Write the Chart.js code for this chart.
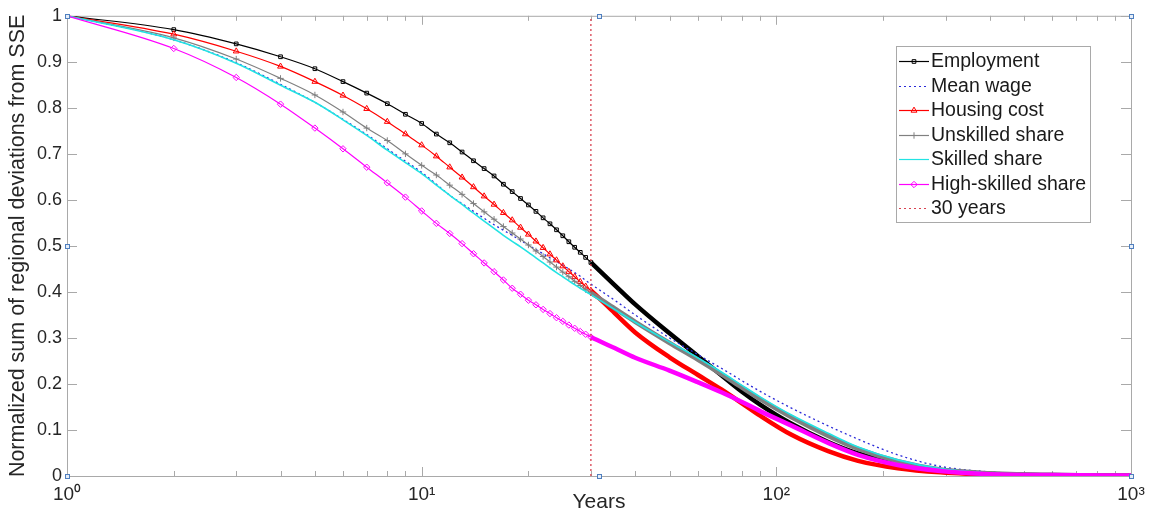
<!DOCTYPE html>
<html>
<head>
<meta charset="utf-8">
<script src="https://cdn.jsdelivr.net/npm/chart.js@4.4.1/dist/chart.umd.min.js"></script>
<style>
  html, body { margin: 0; padding: 0; background: #fff; }
</style>
</head>
<body>
<canvas id="myChart" width="1156" height="518"></canvas>
<script>
// data
const years = [1, 2, 3, 4, 5, 6, 7, 8, 9, 10, 11, 12, 13, 14, 15, 16, 17, 18, 19, 20,
  21, 22, 23, 24, 25, 26, 27, 28, 29, 30, 35, 40, 50, 60, 70, 80, 90, 110, 140, 170, 220, 290, 400, 600, 1000];

const employment = [1.000, 0.970, 0.939, 0.911, 0.885, 0.857, 0.832, 0.809, 0.786, 0.766, 0.743, 0.724, 0.704, 0.685, 0.668, 0.652, 0.634, 0.618, 0.603, 0.589,
  0.575, 0.561, 0.548, 0.535, 0.522, 0.509, 0.497, 0.486, 0.475, 0.464, 0.415, 0.373, 0.310, 0.261, 0.219, 0.183, 0.155, 0.114, 0.074, 0.049, 0.027, 0.013, 0.005, 0.002, 0.001];
const meanWage = [1.000, 0.948, 0.898, 0.851, 0.812, 0.775, 0.742, 0.711, 0.684, 0.660, 0.634, 0.610, 0.592, 0.575, 0.560, 0.546, 0.534, 0.523, 0.512, 0.502,
  0.492, 0.483, 0.474, 0.466, 0.458, 0.450, 0.442, 0.434, 0.425, 0.417, 0.382, 0.350, 0.300, 0.264, 0.234, 0.207, 0.184, 0.148, 0.109, 0.080, 0.046, 0.021, 0.009, 0.003, 0.001];
const housingCost = [1.000, 0.960, 0.923, 0.890, 0.857, 0.827, 0.798, 0.770, 0.743, 0.719, 0.695, 0.671, 0.649, 0.628, 0.608, 0.590, 0.572, 0.556, 0.540, 0.525,
  0.510, 0.496, 0.482, 0.469, 0.456, 0.444, 0.433, 0.422, 0.412, 0.403, 0.354, 0.312, 0.258, 0.220, 0.188, 0.158, 0.131, 0.090, 0.054, 0.033, 0.017, 0.008, 0.003, 0.001, 0.0005];
const unskilled = [1.000, 0.952, 0.906, 0.864, 0.828, 0.791, 0.756, 0.729, 0.700, 0.675, 0.654, 0.632, 0.612, 0.592, 0.574, 0.558, 0.542, 0.528, 0.515, 0.502,
  0.489, 0.477, 0.465, 0.454, 0.443, 0.433, 0.423, 0.414, 0.405, 0.398, 0.364, 0.335, 0.289, 0.253, 0.221, 0.192, 0.167, 0.128, 0.087, 0.059, 0.032, 0.014, 0.006, 0.002, 0.001];
const skilled = [1.000, 0.948, 0.897, 0.849, 0.812, 0.774, 0.740, 0.708, 0.681, 0.657, 0.632, 0.610, 0.590, 0.571, 0.554, 0.538, 0.523, 0.510, 0.498, 0.486,
  0.474, 0.463, 0.452, 0.442, 0.433, 0.424, 0.416, 0.408, 0.401, 0.394, 0.362, 0.334, 0.291, 0.257, 0.226, 0.197, 0.172, 0.133, 0.093, 0.063, 0.035, 0.016, 0.006, 0.002, 0.001];
const highSkilled = [1.000, 0.929, 0.866, 0.808, 0.756, 0.711, 0.671, 0.637, 0.606, 0.576, 0.549, 0.527, 0.505, 0.483, 0.463, 0.444, 0.426, 0.408, 0.395, 0.382,
  0.372, 0.362, 0.353, 0.344, 0.336, 0.328, 0.321, 0.314, 0.308, 0.302, 0.278, 0.257, 0.229, 0.204, 0.182, 0.161, 0.141, 0.110, 0.072, 0.046, 0.024, 0.011, 0.004, 0.002, 0.001];

const markYear = 30;
const xTickLabels = { 1: '10\u2070', 10: '10\u00b9', 100: '10\u00b2', 1000: '10\u00b3' };
const yTicks = [0, 0.1, 0.2, 0.3, 0.4, 0.5, 0.6, 0.7, 0.8, 0.9, 1];

const FONT = "'Liberation Sans', Arial, sans-serif";
const AXIS_COLOR = '#a9a9a9';
const TEXT_COLOR = '#262626';

function pts(vals) {
  return years.map((y, i) => ({ x: y, y: vals[i] }));
}

function markerSeries(label, vals, color, style, r) {
  return {
    label: label,
    data: pts(vals),
    borderColor: color,
    backgroundColor: 'rgba(255,255,255,0)',
    pointBorderColor: color,
    pointBackgroundColor: 'rgba(255,255,255,0)',
    pointStyle: style,
    pointRadius: ctx => (years[ctx.dataIndex] <= 30 ? r : 0),
    pointBorderWidth: 1,
    borderWidth: 1.2,
    cubicInterpolationMode: 'monotone',
    segment: {
      // markers get so dense past ~30 years that they merge into a thick band
      borderWidth: ctx => (ctx.p0.parsed.x >= 30 ? 4.5 : 1.2)
    },
    legendMarker: { style: style, r: r }
  };
}

const datasets = [
  markerSeries('Employment', employment, '#000000', 'rect', 2.6),
  {
    label: 'Mean wage', data: pts(meanWage), borderColor: '#2a2ad8', borderWidth: 1.3,
    borderDash: [2, 3], pointRadius: 0, cubicInterpolationMode: 'monotone'
  },
  markerSeries('Housing cost', housingCost, '#ff0000', 'triangle', 3.4),
  markerSeries('Unskilled share', unskilled, '#808080', 'cross', 3.2),
  {
    label: 'Skilled share', data: pts(skilled), borderColor: '#22e3e3', borderWidth: 1.6,
    pointRadius: 0, cubicInterpolationMode: 'monotone'
  },
  markerSeries('High-skilled share', highSkilled, '#ff00ff', 'rectRot', 3.2),
  {
    label: '30 years', data: [{ x: markYear, y: 0 }, { x: markYear, y: 1 }],
    borderColor: '#d8404f', borderWidth: 1.3, borderDash: [2, 3], pointRadius: 0
  }
];
datasets.forEach((d, i) => { d.order = 10 - i; });

// axis box, inward ticks and the little edit handles
const axesBox = {
  id: 'axesBox',
  beforeDatasetsDraw(chart) {
    const { ctx, chartArea: a, scales } = chart;
    ctx.save();
    ctx.strokeStyle = AXIS_COLOR;
    ctx.lineWidth = 1;
    ctx.strokeRect(a.left + 0.5, a.top + 0.5, a.right - a.left, a.bottom - a.top);
    ctx.beginPath();
    for (let d = 0; d < 3; d++) {
      for (let m = 1; m <= 9; m++) {
        const v = m * Math.pow(10, d);
        const x = Math.round(scales.x.getPixelForValue(v)) + 0.5;
        const len = m === 1 ? 9 : 5;
        ctx.moveTo(x, a.bottom); ctx.lineTo(x, a.bottom - len);
        ctx.moveTo(x, a.top); ctx.lineTo(x, a.top + len);
      }
    }
    yTicks.forEach(v => {
      const y = Math.round(scales.y.getPixelForValue(v)) + 0.5;
      ctx.moveTo(a.left, y); ctx.lineTo(a.left + 10, y);
      ctx.moveTo(a.right, y); ctx.lineTo(a.right - 10, y);
    });
    ctx.stroke();
    ctx.restore();
  },
  afterDraw(chart) {
    const { ctx, chartArea: a } = chart;
    const xs = [a.left, (a.left + a.right) / 2, a.right];
    const ys = [a.top, (a.top + a.bottom) / 2, a.bottom];
    ctx.save();
    ctx.strokeStyle = '#4f7fbf';
    ctx.fillStyle = '#e6eef8';
    ctx.lineWidth = 1;
    xs.forEach((x, i) => ys.forEach((y, j) => {
      if (i === 1 && j === 1) return;
      ctx.fillRect(Math.round(x) - 2, Math.round(y) - 2, 5, 5);
      ctx.strokeRect(Math.round(x) - 2 + 0.5, Math.round(y) - 2 + 0.5, 4, 4);
    }));
    ctx.restore();
  }
};

// legend drawn inside the axes, top right
const boxLegend = {
  id: 'boxLegend',
  afterDraw(chart) {
    const { ctx } = chart;
    const bx = 896, by = 46, bw = 194, bh = 176;
    ctx.save();
    ctx.fillStyle = '#ffffff';
    ctx.fillRect(bx, by, bw, bh);
    ctx.strokeStyle = AXIS_COLOR;
    ctx.lineWidth = 1;
    ctx.strokeRect(bx + 0.5, by + 0.5, bw, bh);
    ctx.font = '19.5px ' + FONT;
    ctx.textBaseline = 'middle';
    chart.data.datasets.forEach((ds, i) => {
      const y = Math.round(by + 15 + i * 24.5) + 0.5;
      ctx.strokeStyle = ds.borderColor;
      ctx.lineWidth = 1.2;
      ctx.setLineDash(ds.borderDash || []);
      ctx.beginPath();
      ctx.moveTo(899, y);
      ctx.lineTo(929, y);
      ctx.stroke();
      ctx.setLineDash([]);
      if (ds.legendMarker) {
        ctx.fillStyle = 'rgba(255,255,255,0)';
        ctx.lineWidth = 1;
        Chart.helpers.drawPoint(ctx, {
          pointStyle: ds.legendMarker.style, radius: ds.legendMarker.r, rotation: 0, borderWidth: 1
        }, 914, y);
      }
      ctx.fillStyle = '#1a1a1a';
      ctx.fillText(ds.label, 931, y);
    });
    ctx.restore();
  }
};

new Chart('myChart', {
  type: 'line',
  data: { datasets: datasets },
  options: {
    responsive: false,
    animation: false,
    devicePixelRatio: 1,
    layout: { padding: { top: 14, right: 25, left: 0, bottom: 0 } },
    plugins: {
      legend: { display: false },
      tooltip: { enabled: false }
    },
    scales: {
      x: {
        type: 'logarithmic',
        min: 1,
        max: 1000,
        afterBuildTicks: scale => {
          const t = [];
          for (let d = 0; d < 3; d++) for (let m = 1; m <= 9; m++) t.push({ value: m * Math.pow(10, d) });
          t.push({ value: 1000 });
          scale.ticks = t;
        },
        afterFit: scale => { scale.height = 42; },
        grid: { display: false, drawTicks: false },
        border: { display: false },
        ticks: {
          autoSkip: false,
          maxRotation: 0,
          padding: 7,
          color: TEXT_COLOR,
          font: { family: FONT, size: 19 },
          callback: v => xTickLabels[v] || ''
        },
        title: {
          display: true,
          text: 'Years',
          color: TEXT_COLOR,
          font: { family: FONT, size: 21 },
          padding: { top: 0, bottom: 3 }
        }
      },
      y: {
        min: 0,
        max: 1,
        afterBuildTicks: scale => { scale.ticks = yTicks.map(v => ({ value: v })); },
        afterFit: scale => { scale.width = 67; },
        grid: { display: false, drawTicks: false },
        border: { display: false },
        ticks: {
          padding: 5,
          color: TEXT_COLOR,
          font: { family: FONT, size: 18 },
          callback: v => String(Math.round(v * 10) / 10)
        },
        title: {
          display: true,
          text: 'Normalized sum of regional deviations from SSE',
          color: TEXT_COLOR,
          font: { family: FONT, size: 21.5 },
          padding: { top: 5, bottom: 0 }
        }
      }
    }
  },
  plugins: [axesBox, boxLegend]
});
</script>
</body>
</html>
